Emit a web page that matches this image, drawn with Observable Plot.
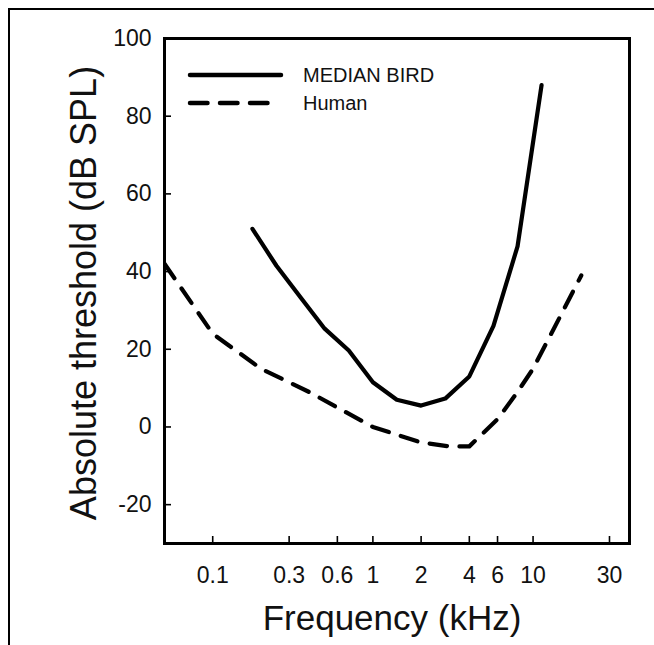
<!DOCTYPE html>
<html>
<head>
<meta charset="utf-8">
<script src="https://cdn.jsdelivr.net/npm/d3@7"></script>
<script src="https://cdn.jsdelivr.net/npm/@observablehq/plot@0.6"></script>
<style>
  html, body { margin: 0; padding: 0; background: #fff; }
  #wrap { position: relative; width: 654px; height: 645px; overflow: hidden; font-family: "Liberation Sans", Arial, sans-serif; }
  #border { position: absolute; left: 8px; top: 8px; width: 700px; height: 700px; border-left: 2.5px solid #000; border-top: 2.5px solid #000; }
  #chart { position: absolute; left: 0; top: 0; }
  #legend { position: absolute; left: 0; top: 0; pointer-events: none; }
</style>
</head>
<body>
<div id="wrap">
  <div id="border"></div>
  <div id="chart"></div>
  <svg id="legend" width="654" height="645"></svg>
</div>
<script>
// ---- data ----
const birdFreq = [0.177, 0.25, 0.354, 0.5, 0.707, 1, 1.41, 2, 2.83, 4, 5.66, 8, 11.3];
const birdDb   = [51, 41.5, 33.3, 25.3, 19.7, 11.5, 7, 5.5, 7.3, 13, 26, 46.5, 88];

const humanFreq = [0.05, 0.1, 0.2, 0.4, 0.6, 1, 2, 3, 4, 6, 8, 10, 15, 20];
const humanDb   = [42, 24, 15, 9, 5, 0, -4, -5, -5, 2, 9, 15, 29, 39];

const xTicks = [0.1, 0.3, 0.6, 1, 2, 4, 6, 10, 30];
const xTickLabels = ["0.1", "0.3", "0.6", "1", "2", "4", "6", "10", "30"];
const yTicks = [-20, 0, 20, 40, 60, 80, 100];
const yTickLabels = ["-20", "0", "20", "40", "60", "80", "100"];
const seriesNames = ["MEDIAN BIRD", "Human"];
const xLabel = "Frequency (kHz)";
const yLabel = "Absolute threshold (dB SPL)";

// ---- tables ----
const bird = birdFreq.map((f, i) => ({f, db: birdDb[i]}));
const human = humanFreq.map((f, i) => ({f, db: humanDb[i]}));
const xTickTable = xTicks.map((v, i) => ({v, label: xTickLabels[i]}));
const yTickTable = yTicks.map((v, i) => ({v, label: yTickLabels[i]}));

const W = 654, H = 645;
const mL = 164, mR = 25, mT = 38, mB = 102;
const innerW = W - mL - mR, innerH = H - mT - mB;
const dash = "17.5 12.5";
const FONT = "'Liberation Sans', Arial, sans-serif";

const chart = Plot.plot({
  width: W,
  height: H,
  marginLeft: mL,
  marginRight: mR,
  marginTop: mT,
  marginBottom: mB,
  style: {fontFamily: FONT, color: "#111", background: "transparent"},
  x: {type: "log", domain: [0.05, 40], axis: null},
  y: {domain: [-30, 100], axis: null},
  marks: [
    // tick labels
    Plot.text(xTickTable, {x: "v", text: "label", frameAnchor: "bottom", lineAnchor: "top", dy: 23, fontSize: 23, fill: "#111"}),
    Plot.text(yTickTable, {y: "v", text: "label", frameAnchor: "left", textAnchor: "end", dx: -13, fontSize: 23, fill: "#111"}),
    // inward ticks
    Plot.tickX(xTicks, {x: d => d, insetTop: innerH - 7, stroke: "#000", strokeWidth: 1.6}),
    Plot.tickY(yTicks, {y: d => d, insetRight: innerW - 7, stroke: "#000", strokeWidth: 1.6}),
    // curves
    Plot.line(bird, {x: "f", y: "db", stroke: "#000", strokeWidth: 4.2, strokeLinecap: "round", strokeLinejoin: "round"}),
    Plot.line(human, {x: "f", y: "db", stroke: "#000", strokeWidth: 4.2, strokeDasharray: dash, strokeLinecap: "round", strokeLinejoin: "round", clip: true}),
    // frame
    Plot.frame({stroke: "#000", strokeWidth: 3}),
    // axis titles
    Plot.text([xLabel], {frameAnchor: "bottom", dy: 86, dx: -5, fontSize: 35, fill: "#111"}),
    Plot.text([yLabel], {frameAnchor: "left", textAnchor: "middle", rotate: -90, dx: -80, dy: 2, fontSize: 36, fill: "#111"})
  ]
});
document.getElementById("chart").appendChild(chart);

// ---- legend (overlay) ----
const lg = d3.select("#legend");
const legendRows = [
  {name: seriesNames[0], dash: null, y: 75},
  {name: seriesNames[1], dash: dash, y: 103}
];
legendRows.forEach(r => {
  lg.append("line")
    .attr("x1", 190).attr("x2", r.dash ? 270 : 281)
    .attr("y1", r.y).attr("y2", r.y)
    .attr("stroke", "#000").attr("stroke-width", 4.5)
    .attr("stroke-linecap", "round")
    .attr("stroke-dasharray", r.dash);
  lg.append("text")
    .attr("x", 303).attr("y", r.y)
    .attr("dy", "0.35em")
    .attr("font-family", FONT)
    .attr("font-size", 20)
    .attr("fill", "#111")
    .text(r.name);
});
</script>
</body>
</html>
